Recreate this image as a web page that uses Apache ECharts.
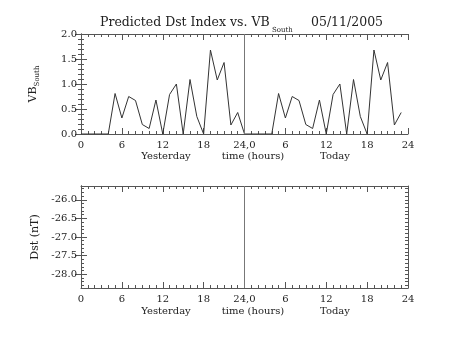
<!DOCTYPE html>
<html>
<head>
<meta charset="utf-8">
<script src="https://cdn.jsdelivr.net/npm/echarts@6/dist/echarts.min.js"></script>
<style>html,body{margin:0;padding:0;background:#fff}#c{width:453px;height:340px}</style>
</head>
<body>
<div id="c"></div>
<script>
// ---- data ----
const hoursYesterday = [0,1,2,3,4,5,6,7,8,9,10,11,12,13,14,15,16,17,18,19,20,21,22,23,24];
const vbYesterday = [0,0,0,0,0,0.81,0.32,0.75,0.67,0.19,0.11,0.68,0,0.79,1.0,0,1.09,0.35,0,1.68,1.08,1.43,0.18,0.43,0];
const hoursToday = [0,1,2,3,4,5,6,7,8,9,10,11,12,13,14,15,16,17,18,19,20,21,22,23];
const vbToday = [0,0,0,0,0,0.81,0.32,0.75,0.67,0.19,0.11,0.68,0,0.79,1.0,0,1.09,0.35,0,1.68,1.08,1.43,0.18,0.43];
const xTickLabels = ['0','6','12','18','24,0','6','12','18','24'];
const vbTicks = [0.0,0.5,1.0,1.5,2.0];
const dstTicks = [-28.0,-27.5,-27.0,-26.5,-26.0];
const dstMinorTicks = [];
for (let v = -28.3; v <= -25.65; v += 0.1) dstMinorTicks.push(+v.toFixed(1));
const dayLabels = ['Yesterday','time (hours)','Today'];

const vbData = hoursYesterday.map((h,i)=>[h, vbYesterday[i]])
  .concat(hoursToday.map((h,i)=>[h+24, vbToday[i]]));

const FONT = 'DejaVu Serif';
const AX = '#555';
const chart = echarts.init(document.getElementById('c'), null, {renderer:'canvas'});

const grids = [
  {left:81, top:34, width:327, height:100},
  {left:81, top:186, width:327, height:102}
];

function xAx(gi, pos, show){
  return {
    type:'value', gridIndex:gi, position:pos, min:0, max:48, interval:6,
    axisLine:{show:true, onZero:false, lineStyle:{color:AX, width:1}},
    axisTick:{show:true, inside:true, length:6, lineStyle:{color:AX}},
    minorTick:{show:true, splitNumber:6, length:3, lineStyle:{color:AX}},
    splitLine:{show:false},
    axisLabel:{show:show, margin:6, fontFamily:FONT, fontSize:10, color:'#222',
      formatter:(v)=>xTickLabels[Math.round(v/6)]}
  };
}

const xAxes = [xAx(0,'bottom',true), xAx(0,'top',false), xAx(1,'bottom',true), xAx(1,'top',false)];

function yTop(pos, show){
  return {
    type:'value', gridIndex:0, position:pos, min:0, max:2, interval:0.5,
    axisLine:{show:true, lineStyle:{color:AX}},
    axisTick:{show:true, inside:true, length:6, lineStyle:{color:AX}},
    minorTick:{show:true, splitNumber:5, length:3, lineStyle:{color:AX}},
    splitLine:{show:false},
    axisLabel:{show:show, margin:4, fontFamily:FONT, fontSize:10, color:'#222',
      formatter:(v)=>vbTicks.indexOf(v) >= 0 ? v.toFixed(1) : ''},
    name: show ? '{a|VB}{s|South}' : '',
    nameLocation:'middle', nameGap:41, nameRotate:90,
    nameTextStyle:{rich:{
      a:{fontFamily:FONT, fontSize:11, color:'#222', lineHeight:14},
      s:{fontFamily:FONT, fontSize:7, color:'#222', lineHeight:14, padding:[9,0,0,0]}
    }}
  };
}
function yBot(pos, show, minor){
  return {
    type:'value', gridIndex:1, position:pos, min:-28.37, max:-25.63,
    axisLine:{show:true, lineStyle:{color:AX}},
    axisTick:{show:true, inside:true, length: minor?3:6, lineStyle:{color:AX},
      customValues: minor ? dstMinorTicks : dstTicks},
    splitLine:{show:false},
    axisLabel:{show:show, margin:4, fontFamily:FONT, fontSize:10, color:'#222',
      customValues: dstTicks, formatter:(v)=>v.toFixed(1)},
    name: show ? 'Dst (nT)' : '',
    nameLocation:'middle', nameGap:35, nameRotate:90,
    nameTextStyle:{fontFamily:FONT, fontSize:11, color:'#222'}
  };
}
const yAxes = [yTop('left',true), yTop('right',false),
  yBot('left',true,false), yBot('right',false,false), yBot('left',false,true), yBot('right',false,true)];

const vLine = {silent:true, symbol:'none', label:{show:false},
  lineStyle:{color:'#777', type:'solid', width:1}, data:[{xAxis:24}]};

chart.setOption({
  animation:false,
  backgroundColor:'#fff',
  grid: grids,
  xAxis: xAxes,
  yAxis: yAxes,
  series:[
    {type:'line', xAxisIndex:0, yAxisIndex:0, data:vbData, symbol:'none',
      lineStyle:{color:'#333', width:1}, markLine:vLine},
    {type:'line', xAxisIndex:2, yAxisIndex:2, data:[], symbol:'none', markLine:vLine}
  ],
  graphic:[
    {type:'text', left:100, top:16, style:{text:'Predicted Dst Index vs. VB', fontFamily:FONT, fontSize:12.5, fill:'#222'}},
    {type:'text', left:272, top:27, style:{text:'South', fontFamily:FONT, fontSize:7, fill:'#222'}},
    {type:'text', left:311, top:16, style:{text:'05/11/2005', fontFamily:FONT, fontSize:12.5, fill:'#222'}},
    {type:'text', x:166, y:156, style:{text:dayLabels[0], fontFamily:FONT, fontSize:10, fill:'#222', align:'center', verticalAlign:'middle'}},
    {type:'text', x:253, y:156, style:{text:dayLabels[1], fontFamily:FONT, fontSize:10, fill:'#222', align:'center', verticalAlign:'middle'}},
    {type:'text', x:335, y:156, style:{text:dayLabels[2], fontFamily:FONT, fontSize:10, fill:'#222', align:'center', verticalAlign:'middle'}},
    {type:'text', x:166, y:311, style:{text:dayLabels[0], fontFamily:FONT, fontSize:10, fill:'#222', align:'center', verticalAlign:'middle'}},
    {type:'text', x:253, y:311, style:{text:dayLabels[1], fontFamily:FONT, fontSize:10, fill:'#222', align:'center', verticalAlign:'middle'}},
    {type:'text', x:335, y:311, style:{text:dayLabels[2], fontFamily:FONT, fontSize:10, fill:'#222', align:'center', verticalAlign:'middle'}}
  ]
});
</script>
</body>
</html>
